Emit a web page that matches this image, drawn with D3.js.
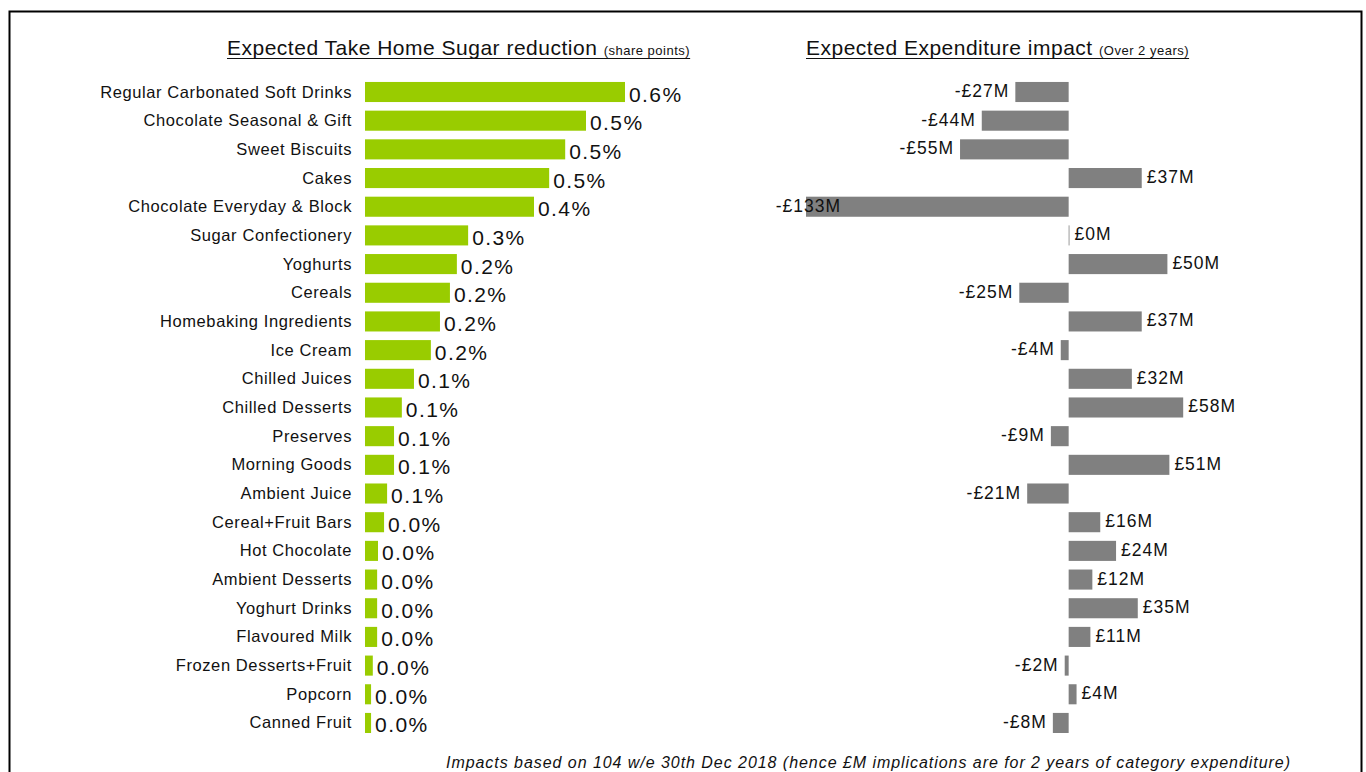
<!DOCTYPE html>
<html><head><meta charset="utf-8">
<script src="https://cdn.jsdelivr.net/npm/d3@7"></script>
<style>
html,body{margin:0;padding:0;background:#fff;}
svg{display:block;font-family:"Liberation Sans",Arial,sans-serif;}
</style></head>
<body>
<svg id="c" width="1366" height="772"></svg>
<script>
const categories = ["Regular Carbonated Soft Drinks","Chocolate Seasonal & Gift","Sweet Biscuits","Cakes","Chocolate Everyday & Block","Sugar Confectionery","Yoghurts","Cereals","Homebaking Ingredients","Ice Cream","Chilled Juices","Chilled Desserts","Preserves","Morning Goods","Ambient Juice","Cereal+Fruit Bars","Hot Chocolate","Ambient Desserts","Yoghurt Drinks","Flavoured Milk","Frozen Desserts+Fruit","Popcorn","Canned Fruit"];
const sugarReduction = [0.600,0.510,0.462,0.425,0.390,0.238,0.212,0.196,0.173,0.152,0.113,0.085,0.067,0.067,0.051,0.044,0.030,0.028,0.028,0.028,0.018,0.014,0.014];
const sugarLabels = ["0.6%","0.5%","0.5%","0.5%","0.4%","0.3%","0.2%","0.2%","0.2%","0.2%","0.1%","0.1%","0.1%","0.1%","0.1%","0.0%","0.0%","0.0%","0.0%","0.0%","0.0%","0.0%","0.0%"];
const expenditure = [-27,-44,-55,37,-133,0.4,50,-25,37,-4,32,58,-9,51,-21,16,24,12,35,11,-2,4,-8];
const leftTitle = ["Expected Take Home Sugar reduction","(share points)"];
const rightTitle = ["Expected Expenditure impact","(Over 2 years)"];
const footnote = "Impacts based on 104 w/e 30th Dec 2018 (hence £M implications are for 2 years of category expenditure)";

const svg = d3.select("#c");
svg.append("rect").attr("x",9.5).attr("y",11.5).attr("width",1352).attr("height",820)
  .attr("fill","none").attr("stroke","#000").attr("stroke-width",2);

const y = d3.scaleBand().domain(categories).range([77.66,737.3]).paddingInner(0.3).paddingOuter(0.15);
const xL = d3.scaleLinear().domain([0,0.6]).range([365,625]);
const xR = d3.scaleLinear().domain([-133,58]).range([806,1183.2]);

// left category labels
svg.append("g").selectAll("text").data(categories).join("text")
  .attr("x",352).attr("y",d=>y(d)+y.bandwidth()/2+5.5)
  .attr("text-anchor","end").attr("font-size",16.5).attr("letter-spacing",0.6).attr("fill","#111")
  .text(d=>d);

// green bars
svg.append("g").selectAll("rect").data(sugarReduction).join("rect")
  .attr("x",xL(0)).attr("y",(d,i)=>y(categories[i]))
  .attr("width",d=>xL(d)-xL(0)).attr("height",y.bandwidth()).attr("fill","#99CC00");
svg.append("g").selectAll("text").data(sugarReduction).join("text")
  .attr("x",d=>xL(d)+4).attr("y",(d,i)=>y(categories[i])+y.bandwidth()/2+9.5)
  .attr("font-size",21).attr("letter-spacing",1.4).attr("fill","#111")
  .text((d,i)=>sugarLabels[i]);

// grey bars
const fmt = v => (v<0?"-£":"£") + Math.round(Math.abs(v)) + "M";
svg.append("g").selectAll("rect").data(expenditure).join("rect")
  .attr("x",d=>xR(Math.min(0,d))).attr("y",(d,i)=>y(categories[i]))
  .attr("width",d=>Math.abs(xR(d)-xR(0))).attr("height",y.bandwidth()).attr("fill","#808080");
svg.append("g").selectAll("text").data(expenditure).join("text")
  .attr("x",d=> d<0 ? Math.max(xR(d)-6, 841) : xR(d)+5)
  .attr("y",(d,i)=>y(categories[i])+y.bandwidth()/2+5)
  .attr("text-anchor",d=>d<0?"end":"start")
  .attr("font-size",17.5).attr("letter-spacing",1).attr("fill","#111")
  .text(fmt);

// titles
function title(x, parts){
  const t = svg.append("text").attr("x",x).attr("y",55).attr("fill","#111");
  t.append("tspan").attr("font-size",21).attr("letter-spacing",0.5).text(parts[0]+" ");
  t.append("tspan").attr("font-size",13).attr("letter-spacing",0.5).text(parts[1]);
  const bb = t.node().getBBox();
  svg.append("line").attr("x1",x).attr("x2",bb.x+bb.width).attr("y1",58.5).attr("y2",58.5)
    .attr("stroke","#111").attr("stroke-width",1.2);
}
title(227,leftTitle);
title(806,rightTitle);

svg.append("text").attr("x",446).attr("y",768).attr("font-size",16).attr("font-style","italic")
  .attr("fill","#111").attr("textLength",844).attr("lengthAdjust","spacing").text(footnote);
</script>
</body></html>
